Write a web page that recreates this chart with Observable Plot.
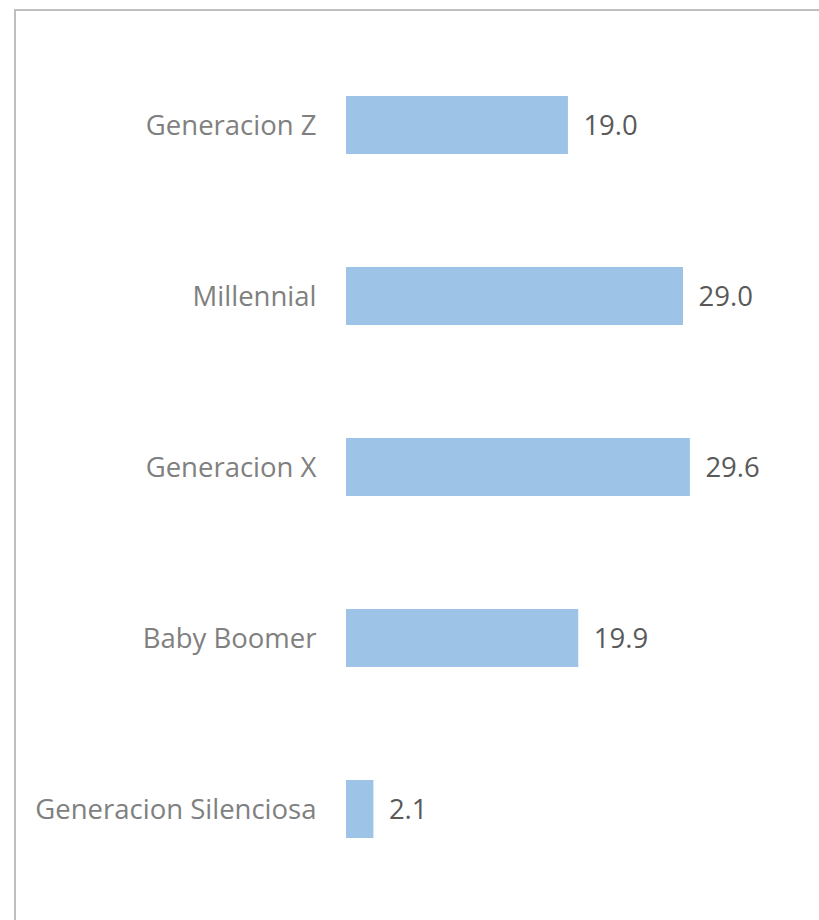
<!DOCTYPE html>
<html>
<head>
<meta charset="utf-8">
<script src="https://cdn.jsdelivr.net/npm/d3@7"></script>
<script src="https://cdn.jsdelivr.net/npm/@observablehq/plot@0.6"></script>
<style>
  html, body { margin: 0; padding: 0; background: #fff; }
  #wrap { position: relative; width: 819px; height: 920px; overflow: hidden; }
  #frame { position: absolute; left: 14px; top: 9px; right: -4px; bottom: -4px;
           border-left: 2px solid #bfbfbf; border-top: 2px solid #bfbfbf; pointer-events: none; }
  #chart { position: absolute; left: 0; top: 0; }
</style>
</head>
<body>
<div id="wrap"><div id="chart"></div><div id="frame"></div></div>
<script>
const categories = ["Generacion Z", "Millennial", "Generacion X", "Baby Boomer", "Generacion Silenciosa"];
const values = [19.0, 29.0, 29.6, 19.9, 2.1];
const valueLabels = ["19.0", "29.0", "29.6", "19.9", "2.1"];

const data = categories.map((c, i) => ({category: c, value: values[i], label: valueLabels[i]}));
const font = "'Open Sans', 'Noto Sans', sans-serif";
const baseline = -0.28;

const chart = Plot.plot({
  width: 819,
  height: 920,
  margin: 0,
  style: {background: "transparent", fontFamily: font},
  x: {domain: [baseline, 30], range: [346, 694.5], axis: null},
  y: {domain: categories, range: [96, 839], paddingInner: 0.66, paddingOuter: 0, axis: null},
  marks: [
    Plot.barX(data, {x1: baseline, x2: "value", y: "category", fill: "#9dc3e6"}),
    Plot.text(data, {x: "value", y: "category", text: "label", textAnchor: "start", dx: 15,
      fontSize: 27.5, fill: "#595959", fontFamily: font, dy: 1}),
    Plot.text(data, {x: baseline, y: "category", text: "category", textAnchor: "end", dx: -30,
      fontSize: 27.5, fill: "#808080", fontFamily: font, dy: 1})
  ]
});
document.getElementById("chart").appendChild(chart);
</script>
</body>
</html>
